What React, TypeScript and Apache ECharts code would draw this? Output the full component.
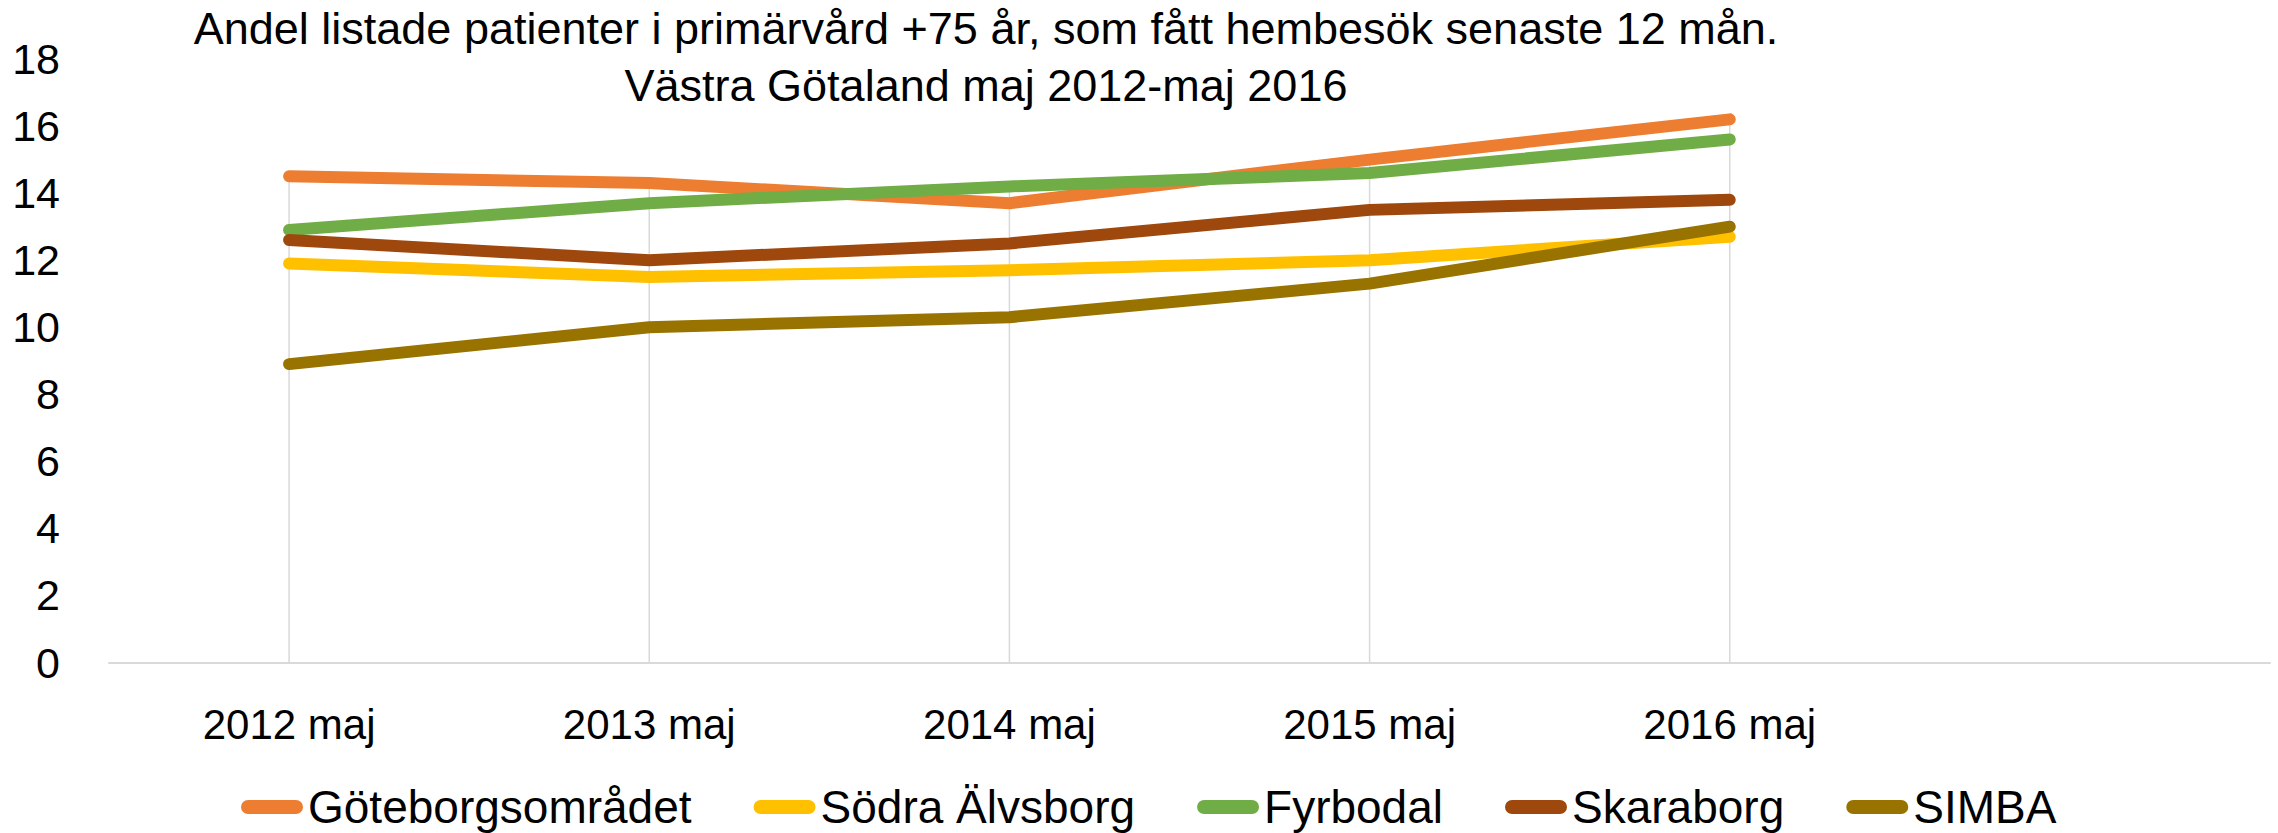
import React, { useEffect, useRef } from "react";
import * as echarts from "echarts";

const categories = ["2012 maj", "2013 maj", "2014 maj", "2015 maj", "2016 maj", ""];
const goteborg = [14.5, 14.3, 13.7, 15.0, 16.2];
const sodraAlvsborg = [11.9, 11.5, 11.7, 12.0, 12.7];
const fyrbodal = [12.9, 13.7, 14.2, 14.6, 15.6];
const skaraborg = [12.6, 12.0, 12.5, 13.5, 13.8];
const simba = [8.9, 10.0, 10.3, 11.3, 13.0];

const seriesNames = ["Göteborgsområdet", "Södra Älvsborg", "Fyrbodal", "Skaraborg", "SIMBA"];
const seriesData = [goteborg, sodraAlvsborg, fyrbodal, skaraborg, simba];
const seriesColors = ["#ED7D31", "#FFC000", "#70AD47", "#9E480E", "#997300"];

const titleLines = [
  "Andel listade patienter i primärvård +75 år, som fått hembesök senaste 12 mån.",
  "Västra Götaland maj 2012-maj 2016",
];

const FONT = "'Liberation Sans', Arial, sans-serif";

export default function App() {
  const ref = useRef<HTMLDivElement>(null);
  useEffect(() => {
    if (!ref.current) return;
    const chart = echarts.init(ref.current, null, { renderer: "svg" });
    const dropData = seriesData[0].map((_, i) => [i, Math.max(...seriesData.map((s) => s[i]))]);
    const option: any = {
      animation: false,
      backgroundColor: "#ffffff",
      textStyle: { fontFamily: FONT },
      graphic: titleLines.map((t, i) => ({
        type: "text",
        x: 986,
        y: 28 + i * 57,
        style: {
          text: t,
          fontSize: 45,
          fontFamily: FONT,
          fill: "#000",
          align: "center",
          verticalAlign: "middle",
        },
      })),
      grid: { left: 109, right: 8, top: 59, bottom: 170.5, containLabel: false },
      xAxis: {
        type: "category",
        data: categories,
        boundaryGap: true,
        axisTick: { show: false },
        axisLine: { lineStyle: { color: "#D9D9D9", width: 2 } },
        splitLine: { show: false },
        axisLabel: {
          interval: 0,
          fontSize: 42,
          lineHeight: 44,
          color: "#000",
          margin: 40,
          fontFamily: FONT,
        },
      },
      yAxis: {
        type: "value",
        min: 0,
        max: 18,
        interval: 2,
        axisLine: { show: false },
        axisTick: { show: false },
        splitLine: { show: false },
        axisLabel: { fontSize: 43, color: "#000", margin: 49, fontFamily: FONT },
      },
      legend: {
        data: seriesNames,
        left: 236,
        top: 779,
        icon: "path://M7,0 H55 A7,7 0 0 1 55,14 H7 A7,7 0 0 1 7,0 Z",
        itemWidth: 62,
        itemHeight: 14,
        itemGap: 62,
        textStyle: { fontSize: 46, color: "#000", fontFamily: FONT, lineHeight: 46 },
      },
      series: [
        {
          type: "custom",
          name: "drop",
          z: 1,
          silent: true,
          data: dropData,
          encode: { x: 0, y: 1 },
          renderItem: (params: any, api: any) => {
            const p0 = api.coord([api.value(0), 0]);
            const p1 = api.coord([api.value(0), api.value(1)]);
            return {
              type: "line",
              shape: { x1: p0[0], y1: p0[1], x2: p1[0], y2: p1[1] },
              style: { stroke: "#D9D9D9", lineWidth: 1.5 },
            };
          },
        },
        ...seriesNames.map((name, i) => ({
          type: "line",
          name,
          data: seriesData[i],
          z: 2,
          symbol: "none",
          showSymbol: false,
          color: seriesColors[i],
          lineStyle: { width: 12, color: seriesColors[i], cap: "round", join: "round" },
        })),
      ],
    };
    chart.setOption(option);
    return () => chart.dispose();
  }, []);
  return (
    <div
      ref={ref}
      style={{ position: "fixed", left: 0, top: 0, width: 2278, height: 833 }}
    />
  );
}
